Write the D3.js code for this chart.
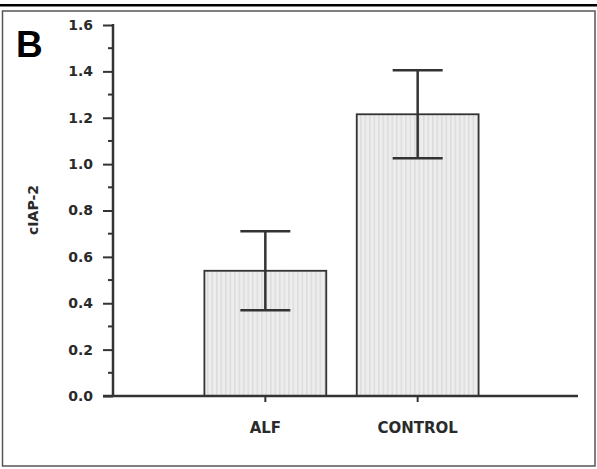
<!DOCTYPE html>
<html>
<head>
<meta charset="utf-8">
<script src="https://cdn.jsdelivr.net/npm/d3@7"></script>
<style>
  body { margin: 0; background: #fff; }
  svg text { font-family: "DejaVu Sans", sans-serif; font-weight: bold; fill: #2a2a2a; }
</style>
</head>
<body>
<div id="chart"></div>
<script>
var groups = ["ALF", "CONTROL"];
var means = [0.54, 1.215];
var errs = [0.17, 0.19];
var yticks = [0, 0.2, 0.4, 0.6, 0.8, 1.0, 1.2, 1.4, 1.6];

var W = 597, H = 469;
var svg = d3.select("#chart").append("svg")
    .attr("width", W).attr("height", H);

// stripe fill for bars
var pat = svg.append("defs").append("pattern")
    .attr("id", "stripes")
    .attr("patternUnits", "userSpaceOnUse")
    .attr("width", 4.5).attr("height", 4);
pat.append("rect").attr("width", 4.5).attr("height", 4).attr("fill", "#ededed");
pat.append("rect").attr("width", 1.5).attr("height", 4).attr("fill", "#dcdcdc");

// frame
svg.append("rect").attr("x", 0).attr("y", 4).attr("width", W).attr("height", 2.5).attr("fill", "#000");
svg.append("rect").attr("x", 2.5).attr("y", 11).attr("width", 592.5).attr("height", 455)
    .attr("fill", "none").attr("stroke", "#555").attr("stroke-width", 1.5);

svg.append("text").attr("x", 16).attr("y", 57)
    .style("font-family", "'Liberation Sans', Arial, sans-serif")
    .style("font-size", "37px").style("fill", "#000").text("B");

var x0 = 113, x1 = 578, y0 = 396, y1 = 25;

var y = d3.scaleLinear().domain([0, 1.6]).range([y0, y1]);
var x = d3.scaleBand().domain(groups).range([113, 570]).paddingInner(0.2).paddingOuter(0.6);
var xc = function (d) { return x(d) + x.bandwidth() / 2; };

// bars
svg.selectAll("rect.bar").data(groups).join("rect")
    .attr("class", "bar")
    .attr("x", function (d) { return x(d); })
    .attr("width", x.bandwidth())
    .attr("y", function (d, i) { return y(means[i]); })
    .attr("height", function (d, i) { return y0 - y(means[i]); })
    .attr("fill", "url(#stripes)")
    .attr("stroke", "#333").attr("stroke-width", 1.8);

// error bars
var eb = svg.selectAll("g.err").data(groups).join("g").attr("class", "err")
    .attr("stroke", "#333").attr("stroke-width", 2.5);
eb.append("line")
    .attr("x1", xc).attr("x2", xc)
    .attr("y1", function (d, i) { return y(means[i] + errs[i]); })
    .attr("y2", function (d, i) { return y(means[i] - errs[i]); });
eb.append("line")
    .attr("x1", function (d) { return xc(d) - 25; }).attr("x2", function (d) { return xc(d) + 25; })
    .attr("y1", function (d, i) { return y(means[i] + errs[i]); })
    .attr("y2", function (d, i) { return y(means[i] + errs[i]); });
eb.append("line")
    .attr("x1", function (d) { return xc(d) - 25; }).attr("x2", function (d) { return xc(d) + 25; })
    .attr("y1", function (d, i) { return y(means[i] - errs[i]); })
    .attr("y2", function (d, i) { return y(means[i] - errs[i]); });

// y axis
var yAxis = svg.append("g").attr("transform", "translate(" + x0 + ",0)")
    .call(d3.axisLeft(y).tickValues(yticks).tickFormat(d3.format(".1f")).tickSize(10).tickPadding(10));
yAxis.select(".domain").remove();
yAxis.selectAll(".tick line").attr("stroke", "#333").attr("stroke-width", 2);
yAxis.selectAll("text").style("font-size", "14px").attr("fill", "#2a2a2a");

// minor ticks
svg.selectAll("line.minor").data(d3.range(0.1, 1.6, 0.2)).join("line")
    .attr("class", "minor")
    .attr("x1", x0 - 5).attr("x2", x0)
    .attr("y1", function (d) { return y(d); }).attr("y2", function (d) { return y(d); })
    .attr("stroke", "#333").attr("stroke-width", 2);

svg.append("line").attr("x1", x0).attr("x2", x0).attr("y1", y1 - 1).attr("y2", y0 + 1)
    .attr("stroke", "#333").attr("stroke-width", 2.5);

// x axis
var xAxis = svg.append("g").attr("transform", "translate(0," + y0 + ")")
    .call(d3.axisBottom(x).tickSize(6).tickPadding(20));
xAxis.select(".domain").remove();
xAxis.selectAll(".tick line").attr("stroke", "#333").attr("stroke-width", 2);
xAxis.selectAll("text").style("font-size", "15px").attr("fill", "#2a2a2a");
svg.append("line").attr("x1", x0 - 10).attr("x2", x1).attr("y1", y0).attr("y2", y0)
    .attr("stroke", "#333").attr("stroke-width", 2.5);

// y label
svg.append("text")
    .attr("transform", "translate(38,210) rotate(-90)")
    .attr("text-anchor", "middle")
    .style("font-size", "14px")
    .text("cIAP-2");
</script>
</body>
</html>
